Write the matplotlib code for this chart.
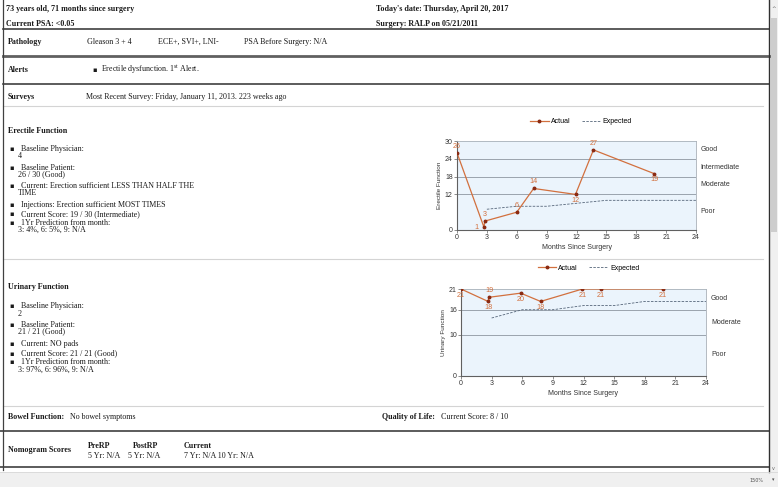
import matplotlib
matplotlib.use('Agg')
import matplotlib.pyplot as plt
from matplotlib.lines import Line2D
from matplotlib.patches import Rectangle

# Erectile function survey (score out of 30)
ef_months = [0, 2.7, 2.8, 6, 7.7, 11.9, 13.7, 19.8]
ef_actual = [26, 1, 3, 6, 14, 12, 27, 19]
ef_exp_months = [3, 6, 9, 12, 15, 24]
ef_expected = [7, 8, 8, 9, 10, 10]
ef_yticks = [0, 12, 18, 24, 30]
ef_zones = ['Good', 'Intermediate', 'Moderate', 'Poor']
ef_zone_y = [27.3, 21.2, 15.2, 6.1]
ef_label_pos = ['a', 'l', 'a', 'a', 'a', 'b', 'a', 'b']

# Urinary function survey (score out of 21)
uf_months = [0, 2.65, 2.75, 5.85, 7.8, 11.9, 13.7, 19.8]
uf_actual = [21, 18, 19, 20, 18, 21, 21, 21]
uf_exp_months = [3, 6, 9, 12, 15, 18, 24]
uf_expected = [14, 16, 16, 17, 17, 18, 18]
uf_yticks = [0, 10, 16, 21]
uf_zones = ['Good', 'Moderate', 'Poor']
uf_zone_y = [18.6, 12.9, 5.1]
uf_label_pos = ['b', 'b', 'a', 'b', 'b', 'b', 'b', 'b']

month_ticks = list(range(0, 25, 3))

W, H = 778, 487
plt.rcParams['font.family'] = ['Liberation Serif', 'DejaVu Sans']
plt.rcParams['mathtext.fontset'] = 'custom'
plt.rcParams['mathtext.rm'] = 'Liberation Serif'
plt.rcParams['mathtext.it'] = 'Liberation Serif:italic'

fig = plt.figure(figsize=(W / 100, H / 100), dpi=100)

TXT = '#1a1a1a'
FS = 5.8


def fx(x):
    return x / W


def fy(y):
    return 1 - y / H


def txt(x, y, s, bold=False, size=FS, **kw):
    fig.text(fx(x), fy(y), s, ha=kw.pop('ha', 'left'), va='center', fontsize=size,
             fontweight='bold' if bold else 'normal', color=kw.pop('color', TXT), **kw)


def hline(y, x0, x1, color, lw):
    fig.add_artist(Line2D([fx(x0), fx(x1)], [fy(y), fy(y)], color=color, lw=lw,
                          transform=fig.transFigure))


def bullets(x_b, x_t, x_c, rows):
    for y, s, is_item in rows:
        if is_item:
            txt(x_b, y, '\u25aa', family=['DejaVu Sans'], size=4.8)
            txt(x_t, y, s)
        else:
            txt(x_c, y, s)


# header
txt(6, 9, '73 years old, 71 months since surgery', bold=True)
txt(6, 24, 'Current PSA: <0.05', bold=True)
txt(376, 9, "Today's date: Thursday, April 20, 2017", bold=True)
txt(376, 24, 'Surgery: RALP on 05/21/2011', bold=True)
hline(29, 3, 769, '#404040', 1.2)

txt(8, 42, 'Pathology', bold=True)
txt(87, 42, 'Gleason 3 + 4')
txt(158, 42, 'ECE+, SVI+, LNI-')
txt(244, 42, 'PSA Before Surgery: N/A')
hline(56, 3, 769, '#606060', 2.0)

txt(8, 70, 'Alerts', bold=True)
txt(92, 70, '\u25aa', family=['DejaVu Sans'], size=4.8)
txt(101, 70, r'Erectile dysfunction. 1$^{\mathrm{st}}$ Alert.')
hline(84, 3, 769, '#404040', 1.2)

txt(8, 97, 'Surveys', bold=True)
txt(86, 97, 'Most Recent Survey: Friday, January 11, 2013. 223 weeks ago')
hline(106, 3, 763, '#d4d4d4', 0.8)

# erectile text block
txt(8, 131, 'Erectile Function', bold=True)
bullets(9, 21, 18, [
    (149, 'Baseline Physician:', True),
    (156, '4', False),
    (168, 'Baseline Patient:', True),
    (174.5, '26 / 30 (Good)', False),
    (186, 'Current: Erection sufficient LESS THAN HALF THE', True),
    (193.5, 'TIME', False),
    (205, 'Injections: Erection sufficient MOST TIMES', True),
    (214, 'Current Score: 19 / 30 (Intermediate)', True),
    (223, '1Yr Prediction from month:', True),
    (229.5, '3: 4%, 6: 5%, 9: N/A', False),
])
hline(259, 3, 763, '#d4d4d4', 0.8)

# urinary text block
txt(8, 287, 'Urinary Function', bold=True)
bullets(9, 21, 18, [
    (306.5, 'Baseline Physician:', True),
    (313.5, '2', False),
    (325, 'Baseline Patient:', True),
    (331.5, '21 / 21 (Good)', False),
    (344.5, 'Current: NO pads', True),
    (353.5, 'Current Score: 21 / 21 (Good)', True),
    (362.5, '1Yr Prediction from month:', True),
    (370, '3: 97%, 6: 96%, 9: N/A', False),
])
hline(406, 3, 763, '#d4d4d4', 0.8)

txt(8, 417, 'Bowel Function:', bold=True)
txt(70, 417, 'No bowel symptoms')
txt(382, 417, 'Quality of Life:', bold=True)
txt(441, 417, 'Current Score: 8 / 10')
hline(431, 0, 769, '#404040', 1.2)

txt(8, 450, 'Nomogram Scores', bold=True)
txt(88, 446, 'PreRP', bold=True)
txt(88, 456, '5 Yr: N/A')
txt(133, 446, 'PostRP', bold=True)
txt(128, 456, '5 Yr: N/A')
txt(184, 446, 'Current', bold=True)
txt(184, 456, '7 Yr: N/A 10 Yr: N/A')
hline(467, 0, 769, '#404040', 1.2)

# window chrome: left border, scrollbar, status bar
fig.add_artist(Line2D([fx(3), fx(3)], [fy(0), fy(470)], color='#404040', lw=0.9))
fig.add_artist(Rectangle((fx(769), fy(472)), fx(9), 472 / H, transform=fig.transFigure,
                         facecolor='#f0f0f0', edgecolor='none'))
fig.add_artist(Rectangle((fx(770.5), fy(232)), fx(6), 214 / H, transform=fig.transFigure,
                         facecolor='#cdcdcd', edgecolor='none'))
fig.add_artist(Line2D([fx(769), fx(769)], [fy(0), fy(472)], color='#303030', lw=1.0))
txt(773.5, 9, '^', ha='center', family=['DejaVu Sans'], size=4, color='#606060')
txt(773.5, 468, 'v', ha='center', family=['DejaVu Sans'], size=3.5, color='#606060')
fig.add_artist(Rectangle((0, 0), 1, 15 / H, transform=fig.transFigure,
                         facecolor='#f0f0f0', edgecolor='none'))
hline(472, 0, W, '#d8d8d8', 0.6)
txt(763, 480, '150%', ha='right', family=['DejaVu Sans'], size=3.5, color='#505050')
txt(773, 480, '\u25be', ha='center', family=['DejaVu Sans'], size=3.5, color='#505050')

ORANGE = '#d2703e'
SANS = ['Liberation Sans', 'DejaVu Sans']
CFS = 5.0


def chart(box, months, actual, exp_m, expected, ymax, yticks, zones, zone_y,
          ylabel, places, leg_y):
    x0, x1, y0, y1 = box
    ax = fig.add_axes([fx(x0), fy(y1), (x1 - x0) / W, (y1 - y0) / H])
    ax.set_facecolor('#ebf4fc')
    ax.plot(months, actual, color=ORANGE, lw=0.9, marker='o', ms=1.8,
            mfc='#8a2a12', mec='#8a2a12', label='Actual', zorder=4)
    ax.plot(exp_m, expected, color='#56667a', lw=0.6, ls=(0, (3, 1.6)),
            label='Expected', zorder=3)
    for m, v, p in zip(months, actual, places):
        off = {'a': (0, 4.8), 'b': (0, -4.4), 'l': (-5, 0)}[p]
        ax.annotate(str(v), (m, v), xytext=off, textcoords='offset points',
                    ha='center', va='center', fontsize=CFS + 0.2, color=ORANGE,
                    family=SANS, zorder=5)
    for t in yticks[1:-1]:
        ax.axhline(t, color='#9aa3ad', lw=0.7, zorder=1)
    ax.set_xlim(0, 24)
    ax.set_ylim(0, ymax)
    ax.set_xticks(month_ticks)
    ax.set_yticks(yticks)
    ax.tick_params(length=2, width=0.5, color='#606060', labelsize=CFS, pad=1,
                   labelcolor='#333333')
    for lab in ax.get_xticklabels() + ax.get_yticklabels():
        lab.set_family(SANS)
    for s in ['left', 'bottom']:
        ax.spines[s].set_color('#606060')
        ax.spines[s].set_linewidth(0.8)
    for s in ['top', 'right']:
        ax.spines[s].set_color('#a8b0b8')
        ax.spines[s].set_linewidth(0.6)
    ax.set_xlabel('Months Since Surgery', fontsize=CFS, family=SANS,
                  color='#333333', labelpad=2)
    ax.set_ylabel(ylabel, fontsize=4.6, family=SANS, color='#333333', labelpad=2)
    for name, zy in zip(zones, zone_y):
        ax.text(1.02, zy, name, transform=ax.get_yaxis_transform(), fontsize=CFS,
                family=SANS, color='#333333', va='center', ha='left')
    ax.legend(loc='lower center', bbox_to_anchor=(0.52, leg_y), ncol=2,
              frameon=False, prop={'family': SANS, 'size': CFS}, handlelength=2.6,
              columnspacing=1.6, handletextpad=0.4, borderpad=0, numpoints=1)
    return ax


chart((457, 696, 141, 230), ef_months, ef_actual, ef_exp_months, ef_expected,
      30, ef_yticks, ef_zones, ef_zone_y, 'Erectile Function', ef_label_pos, 1.14)
chart((461, 706, 289, 376), uf_months, uf_actual, uf_exp_months, uf_expected,
      21, uf_yticks, uf_zones, uf_zone_y, 'Urinary Function', uf_label_pos, 1.16)

fig.savefig('out.png', dpi=100)
